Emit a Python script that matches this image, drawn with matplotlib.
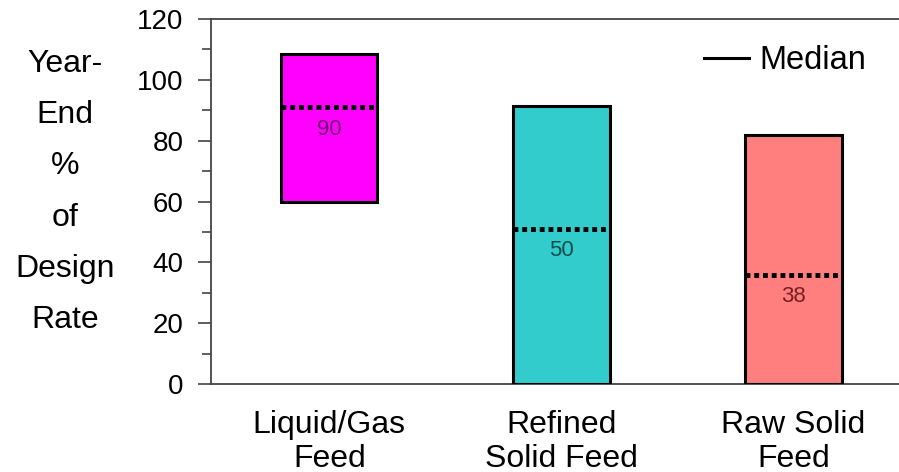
import matplotlib
matplotlib.use("Agg")
import matplotlib.pyplot as plt
from matplotlib.lines import Line2D
from matplotlib.ticker import MultipleLocator

plt.rcParams['font.family'] = ['Liberation Sans', 'DejaVu Sans']

categories = ["Liquid/Gas\nFeed", "Refined\nSolid Feed", "Raw Solid\nFeed"]
range_low = [60, 0, 0]
range_high = [108.5, 91.5, 82]
median_pos = [91, 51, 36]
median_labels = ["90", "50", "38"]
bar_colors = ["#FF00FF", "#33CCCC", "#FF7F7F"]
label_colors = ["#6e0a6e", "#0d4f4f", "#7a1f1f"]

fig = plt.figure(figsize=(8.99, 4.72), dpi=100)
ax = fig.add_axes([211/899, 1-384/472, 1-211/899, (384-19)/472])

x = list(range(len(categories)))
w = 0.415
heights = [h - l for h, l in zip(range_high, range_low)]
ax.bar(x, heights, bottom=range_low, width=w, color=bar_colors,
       edgecolor="black", linewidth=2.2, zorder=3)

for i in x:
    ax.plot([i - w/2, i + w/2], [median_pos[i], median_pos[i]],
            color="black", linewidth=3.5, linestyle=(0, (1, 0.8)),
            solid_capstyle="butt", dash_capstyle="butt", zorder=4)
    ax.text(i, median_pos[i] - 3.8, median_labels[i], ha="center", va="top",
            fontsize=16, color=label_colors[i], zorder=5)

ax.set_xlim(-0.51, 2.455)
ax.set_ylim(0, 120)
ax.yaxis.set_major_locator(MultipleLocator(20))
ax.yaxis.set_minor_locator(MultipleLocator(10))
ax.tick_params(axis="y", which="major", length=9.3, width=1.2, color="#444444",
               labelsize=20, pad=10.5)
ax.tick_params(axis="y", which="minor", length=6.7, width=1.2, color="#444444")
ax.set_xticks(x)
ax.set_xticklabels(categories, fontsize=23, linespacing=1.15)
ax.tick_params(axis="x", length=0, pad=19)

for s in ["left", "top", "bottom"]:
    ax.spines[s].set_color("#444444")
    ax.spines[s].set_linewidth(1.3)
ax.spines["right"].set_visible(False)

fig.text(65/899, 1-192/472, "Year-\nEnd\n%\nof\nDesign\nRate",
         ha="center", va="center", multialignment="center",
         fontsize=23, linespacing=1.92)

ax.legend(handles=[Line2D([], [], color="black", linewidth=2.2)], labels=["Median"],
          loc="upper right", bbox_to_anchor=(866/899, 1-45/472),
          bbox_transform=fig.transFigure, frameon=False,
          handlelength=1.4, handletextpad=0.3, fontsize=23.5,
          borderaxespad=0, borderpad=0)

fig.savefig("out.png", dpi=100)
